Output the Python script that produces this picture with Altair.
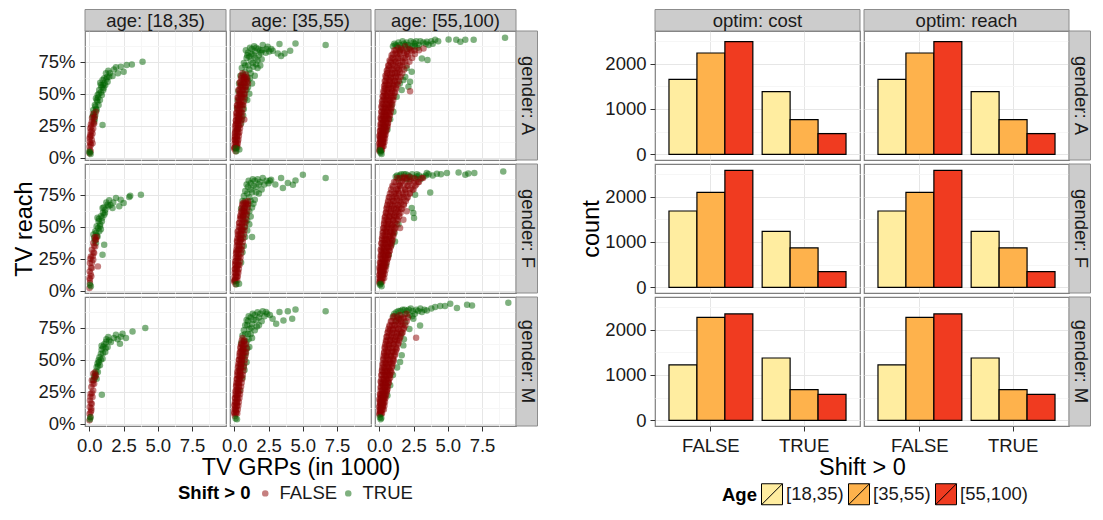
import altair as alt
import pandas as pd

FONT = "Liberation Sans"

AGES = ["[18,35)", "[35,55)", "[55,100)"]
GENDERS = ["A", "F", "M"]
SHIFT_LEVELS = ["FALSE", "TRUE"]
OPTIMS = ["cost", "reach"]

# ---- scatter: (TV GRPs in 1000, TV reach in %) ----
A_18_TRUE = [(3.89,75.0),(3.11,72.9),(2.73,72.4),(1.95,70.6),(2.51,67.2),(2.09,65.9),(1.70,63.8),(1.39,68.0),
             (1.22,65.9),(1.46,63.3),(1.09,62.0),(1.34,59.4),(0.97,60.7),(1.17,56.8),(0.85,56.8),(1.02,52.9),
             (0.73,52.9),(0.92,49.0),(0.61,49.0),(0.78,45.1),(0.49,46.4),(0.68,41.1),(0.41,41.1),(0.54,37.2),
             (0.29,37.2),(0.44,33.3),(0.24,32.0),(0.36,28.1),(0.97,25.5),(1.05,54.5),(0.80,58.5),(1.25,61.5),
             (0.60,44.0),(0.35,35.0),(0.55,45.0),(0.70,50.0),(0.90,55.0),(1.10,58.0),(1.50,66.0),(1.80,69.0),
             (2.30,71.0),(0.45,40.0),(0.30,33.0),(0.40,30.0),(0.50,38.0),(0.65,47.0),(0.85,51.0),(1.00,57.0),
             (1.30,63.0),(0.00,4.7),(0.10,2.9),(0.05,4.0)]
A_18_FALSE = [(0.02,3.4),(0.05,6.0),(0.02,8.6),(0.12,9.9),(0.03,12.5),(0.19,13.8),(0.05,16.4),(0.24,19.0),
              (0.10,20.3),(0.29,22.9),(0.15,24.2),(0.36,26.8),(0.19,28.1),(0.41,32.0),(0.29,34.1),(0.49,35.9),
              (0.03,15.1),(0.24,11.2),(0.08,18.0),(0.12,26.0),(0.20,31.0),(0.10,5.0),(0.15,17.0),(0.30,27.0),
              (0.35,31.0),(0.07,23.0),(0.18,21.0),(0.08,11.0)]
F_18_TRUE = [(3.77,75.0),(2.99,74.2),(2.92,73.2),(1.95,72.4),(2.51,68.5),(2.19,65.9),(1.46,70.6),(1.70,64.6),
             (1.34,67.2),(1.17,63.3),(0.97,64.6),(1.09,59.4),(0.85,58.1),(0.92,54.2),(0.68,54.2),(0.78,50.3),
             (0.54,50.3),(0.73,46.4),(0.44,46.4),(0.61,42.4),(0.36,41.1),(1.09,35.9),(0.97,28.1),(0.49,37.2),
             (1.25,69.0),(1.55,67.0),(1.00,61.0),(0.60,57.0),(0.85,48.0),(0.30,44.0),(0.50,45.0),(0.65,49.0),
             (0.80,52.0),(0.95,57.0),(1.15,61.0),(1.40,66.0),(1.75,69.0),(2.30,71.0),(0.40,39.0),(0.55,43.0),
             (0.70,56.0),(1.05,65.0),(0.05,4.7),(0.12,3.4)]
F_18_FALSE = [(0.54,41.9),(0.02,2.1),(0.05,6.0),(0.02,9.9),(0.15,11.2),(0.03,15.1),(0.19,17.7),(0.05,21.6),
              (0.29,24.2),(0.12,26.8),(0.36,29.4),(0.19,32.0),(0.44,34.6),(0.29,37.2),(0.49,39.8),(0.63,19.0),
              (0.05,8.6),(0.10,13.0),(0.20,22.0),(0.30,30.0),(0.40,42.0),(0.12,18.0),(0.25,27.0),(0.35,35.0),
              (0.08,25.0),(0.45,40.0)]
M_18_TRUE = [(4.09,74.7),(3.16,72.1),(2.43,70.3),(1.95,69.5),(2.68,66.9),(2.07,65.9),(2.24,62.5),(1.39,67.7),
             (1.58,63.8),(1.22,63.8),(1.34,59.9),(1.02,59.9),(1.17,56.0),(0.85,54.7),(0.97,50.8),(0.68,49.5),
             (0.78,45.6),(0.54,44.3),(0.63,40.4),(0.44,39.1),(0.54,35.2),(0.92,22.7),(0.29,33.9),(1.10,62.0),
             (0.90,58.0),(0.60,47.0),(0.75,52.0),(0.35,37.0),(0.50,41.0),(0.65,45.0),(0.85,50.0),(1.00,55.0),
             (1.20,59.0),(1.45,65.0),(1.80,67.0),(2.30,68.0),(0.40,36.0),(0.70,48.0),(0.90,61.0),(1.25,66.0),
             (0.05,3.5),(0.10,5.0)]
M_18_FALSE = [(0.49,37.8),(0.02,2.6),(0.07,5.2),(0.02,7.8),(0.15,10.4),(0.03,13.0),(0.19,15.6),(0.05,18.2),
              (0.24,20.8),(0.10,23.4),(0.29,26.0),(0.15,28.6),(0.36,31.3),(0.19,33.9),(0.44,36.5),(0.29,39.1),
              (0.10,9.0),(0.12,16.0),(0.20,24.0),(0.25,31.0),(0.08,21.0),(0.32,34.0),(0.15,12.0),(0.40,40.0)]

A_35_TRUE = [(6.67,88.0),(4.47,89.3),(4.08,83.6),(3.30,88.8),(2.81,83.6),(3.42,79.4),(3.67,81.5),(3.18,81.5),
             (2.08,88.0),(2.44,86.7),(2.70,85.0),(2.30,82.0),(1.90,84.0),(1.60,86.0),(1.30,85.0),(1.00,82.0),
             (1.80,80.0),(1.40,80.0),(0.90,78.0),(1.20,76.0),(1.70,76.0),(2.00,77.0),(0.70,74.0),(1.00,72.0),
             (1.40,71.0),(1.70,70.0),(0.55,70.0),(0.80,67.0),(1.20,66.0),(1.50,64.0),(0.45,64.0),(0.70,61.0),
             (1.00,60.0),(1.30,58.0),(0.35,58.0),(0.60,55.0),(0.90,53.0),(1.10,50.0),(0.30,52.0),(0.50,48.0),
             (0.80,46.0),(0.25,45.0),(0.60,41.0),(0.20,39.0),(0.45,35.0),(0.65,33.0),(0.30,30.0),(0.50,27.0),
             (0.25,22.0),(1.50,83.0),(1.10,79.0),(0.85,84.0),(1.15,86.0),(1.45,87.0),(1.75,85.0),(2.05,84.0),
             (2.35,85.0),(0.95,80.0),(1.25,81.0),(1.55,78.0),(1.95,82.0),(2.55,83.0),(0.80,72.0),(1.10,69.0),
             (1.35,74.0),(1.60,73.0),(1.90,72.0),(0.65,65.0),(0.95,63.0),(1.15,62.0),(0.50,57.0),(0.75,58.0),
             (1.00,55.0),(0.45,50.0),(0.70,50.0),(0.95,45.0),(0.40,42.0),(0.70,38.0),(0.35,32.0),(0.55,30.0),
             (0.12,7.3),(0.37,6.5),(0.15,5.0)]
A_35_FALSE = [(0.10,5.0),(0.05,8.0),(0.20,9.0),(0.10,12.0),(0.25,13.0),(0.05,16.0),(0.20,17.0),(0.30,19.0),
              (0.10,21.0),(0.25,23.0),(0.35,25.0),(0.15,27.0),(0.30,29.0),(0.73,29.9),(0.40,31.0),(0.20,33.0),
              (0.35,35.0),(0.50,36.0),(0.25,39.0),(0.45,41.0),(0.60,42.0),(0.35,45.0),(0.55,47.0),(0.70,49.0),
              (0.45,51.0),(0.65,53.0),(0.80,55.0),(0.55,57.0),(0.75,59.0),(0.90,61.0),(0.70,63.0),(0.85,65.0),
              (1.00,58.0),(0.60,66.0),(0.00,7.0),(0.15,10.0),(0.05,14.0),(0.18,15.0),(0.05,19.0),(0.20,21.0),
              (0.08,25.0),(0.25,27.0),(0.12,29.0),(0.28,31.0),(0.15,35.0),(0.32,37.0),(0.20,41.0),(0.38,43.0),
              (0.25,47.0),(0.42,49.0),(0.30,53.0),(0.50,55.0),(0.40,59.0),(0.60,61.0),(0.50,64.0),(0.80,63.0),
              (0.00,8),(0.12,8),(0.22,8),(0.02,11),(0.14,11),(0.26,11),(0.03,14),(0.16,14),(0.30,14),(0.05,17),
              (0.19,17),(0.34,17),(0.07,20),(0.22,20),(0.38,20),(0.09,23),(0.25,23),(0.42,23),(0.11,26),(0.28,26),
              (0.46,26),(0.13,29),(0.31,29),(0.50,29),(0.15,32),(0.34,32),(0.54,32),(0.18,35),(0.37,35),(0.58,35),
              (0.21,38),(0.40,38),(0.62,38),(0.24,41),(0.44,41),(0.66,41),(0.27,44),(0.48,44),(0.70,44),(0.30,47),
              (0.52,47),(0.74,47),(0.34,50),(0.56,50),(0.78,50),(0.38,53),(0.60,53),(0.82,53),(0.42,56),(0.64,56),
              (0.86,56),(0.46,59),(0.68,59),(0.90,59),(0.50,62),(0.72,62),(0.94,62)]
F_35_TRUE = [(6.67,88.0),(5.01,90.6),(4.47,86.2),(3.91,84.1),(3.55,80.2),(4.28,82.8),(3.42,88.0),(2.69,86.7),
             (2.08,88.0),(1.30,41.9),(1.90,85.0),(1.50,86.0),(1.20,84.0),(2.20,83.0),(1.00,81.0),(1.60,81.0),
             (2.00,79.0),(0.80,78.0),(1.30,77.0),(1.80,76.0),(0.70,74.0),(1.10,73.0),(1.50,71.0),(0.60,70.0),
             (1.00,67.0),(1.30,65.0),(0.50,64.0),(0.90,60.0),(1.20,58.0),(1.10,52.0),(0.80,54.0),(0.60,48.0),
             (0.95,47.0),(0.50,40.0),(0.70,35.0),(0.60,30.0),(0.50,22.0),(2.50,84.0),(3.00,83.0),(1.05,86.0),
             (1.35,87.0),(1.70,87.0),(2.35,86.0),(0.90,83.0),(1.40,82.0),(1.80,83.0),(2.60,86.0),(0.95,76.0),
             (1.20,79.0),(1.60,77.0),(0.80,70.0),(1.20,70.0),(1.40,68.0),(0.70,64.0),(1.10,62.0),(0.65,58.0),
             (0.95,55.0),(0.75,50.0),(0.55,44.0),(0.80,42.0),(0.15,5.0),(0.35,5.5),(0.05,8.0)]
F_35_FALSE = [(0.10,5.0),(0.05,9.0),(0.20,11.0),(0.10,14.0),(0.25,15.0),(0.15,18.0),(0.30,20.0),(0.10,23.0),
              (0.25,25.0),(0.35,27.0),(0.15,30.0),(0.30,32.0),(0.45,33.0),(0.25,36.0),(0.40,38.0),(0.50,40.0),
              (0.30,43.0),(0.45,45.0),(0.60,47.0),(0.40,50.0),(0.55,52.0),(0.70,54.0),(0.50,57.0),(0.65,59.0),
              (0.80,61.0),(0.60,63.0),(0.75,65.0),(0.90,67.0),(0.70,69.0),(1.00,70.0),(0.00,7.0),(0.12,12.0),
              (0.05,17.0),(0.20,19.0),(0.08,21.0),(0.18,27.0),(0.22,31.0),(0.35,35.0),(0.20,39.0),(0.38,41.0),
              (0.25,46.0),(0.50,48.0),(0.35,53.0),(0.45,58.0),(0.55,61.0),(0.70,62.0),(0.60,67.0),(0.85,69.0),
              (0.00,8),(0.12,8),(0.22,8),(0.02,11),(0.14,11),(0.26,11),(0.03,14),(0.16,14),(0.30,14),(0.05,17),
              (0.19,17),(0.34,17),(0.07,20),(0.22,20),(0.38,20),(0.09,23),(0.25,23),(0.42,23),(0.11,26),(0.28,26),
              (0.46,26),(0.13,29),(0.31,29),(0.50,29),(0.15,32),(0.34,32),(0.54,32),(0.18,35),(0.37,35),(0.58,35),
              (0.21,38),(0.40,38),(0.62,38),(0.24,41),(0.44,41),(0.66,41),(0.27,44),(0.48,44),(0.70,44),(0.30,47),
              (0.52,47),(0.74,47),(0.34,50),(0.56,50),(0.78,50),(0.38,53),(0.60,53),(0.82,53),(0.42,56),(0.64,56),
              (0.86,56),(0.46,59),(0.68,59),(0.90,59),(0.50,62),(0.72,62),(0.94,62),(0.55,65),(0.78,65),(0.98,65),
              (0.60,68),(0.84,68),(1.02,68)]
M_35_TRUE = [(6.67,87.8),(4.47,89.3),(3.91,87.8),(4.23,82.0),(3.59,80.7),(3.06,78.1),(3.30,87.2),(2.32,87.2),
             (2.08,87.8),(1.90,86.0),(1.50,85.0),(1.20,83.0),(2.20,84.0),(1.00,80.0),(1.60,81.0),(2.00,80.0),
             (0.80,77.0),(1.30,78.0),(1.80,77.0),(0.70,73.0),(1.10,74.0),(1.50,73.0),(0.60,69.0),(1.00,70.0),
             (1.30,67.0),(0.50,63.0),(0.90,64.0),(1.10,60.0),(0.85,55.0),(0.60,52.0),(0.90,48.0),(0.45,44.0),
             (0.75,42.0),(0.60,36.0),(0.40,26.0),(2.60,85.0),(2.80,82.0),(1.05,84.0),(1.35,86.0),(1.70,87.0),
             (2.40,86.0),(0.90,81.0),(1.40,81.0),(1.80,83.0),(0.95,77.0),(1.25,75.0),(1.65,76.0),(0.80,70.0),
             (1.20,70.0),(0.70,65.0),(1.05,66.0),(0.65,58.0),(0.95,59.0),(0.75,52.0),(0.55,47.0),(0.70,45.0),
             (0.10,4.0),(0.20,3.5)]
M_35_FALSE = [(0.05,6.0),(0.15,9.0),(0.05,12.0),(0.20,14.0),(0.10,17.0),(0.25,19.0),(0.15,22.0),(0.30,24.0),
              (0.20,27.0),(0.35,29.0),(0.25,32.0),(0.40,34.0),(0.30,37.0),(0.45,39.0),(0.35,42.0),(0.50,44.0),
              (0.40,47.0),(0.55,49.0),(0.45,52.0),(0.60,54.0),(0.50,57.0),(0.65,59.0),(0.55,62.0),(0.70,64.0),
              (0.60,67.0),(0.75,56.0),(0.85,62.0),(0.50,37.0),(0.00,9.0),(0.12,11.0),(0.02,15.0),(0.18,16.0),
              (0.05,20.0),(0.22,21.0),(0.10,25.0),(0.28,26.0),(0.15,30.0),(0.32,31.0),(0.20,35.0),(0.38,36.0),
              (0.25,40.0),(0.42,41.0),(0.30,45.0),(0.48,46.0),(0.35,50.0),(0.52,51.0),(0.40,55.0),(0.58,57.0),
              (0.45,60.0),(0.65,61.0),
              (0.00,8),(0.12,8),(0.22,8),(0.02,11),(0.14,11),(0.26,11),(0.03,14),(0.16,14),(0.30,14),(0.05,17),
              (0.19,17),(0.34,17),(0.07,20),(0.22,20),(0.38,20),(0.09,23),(0.25,23),(0.42,23),(0.11,26),(0.28,26),
              (0.46,26),(0.13,29),(0.31,29),(0.50,29),(0.15,32),(0.34,32),(0.54,32),(0.18,35),(0.37,35),(0.58,35),
              (0.21,38),(0.40,38),(0.62,38),(0.24,41),(0.44,41),(0.66,41),(0.27,44),(0.48,44),(0.70,44),(0.30,47),
              (0.52,47),(0.74,47),(0.34,50),(0.56,50),(0.78,50),(0.38,53),(0.60,53),(0.82,53),(0.42,56),(0.64,56),
              (0.86,56),(0.46,59),(0.68,59),(0.90,59),(0.50,62),(0.72,62),(0.55,65),(0.76,65)]

A_55_TRUE = [(9.18,93.8),(6.89,92.2),(6.28,92.2),(5.92,90.6),(5.62,92.2),(5.06,92.4),(4.08,92.2),(3.47,90.6),
             (3.11,77.6),(3.52,76.3),(2.13,55.5),(2.25,59.4),(1.76,60.7),(2.37,67.2),(1.10,89.0),(1.40,90.0),
             (1.70,91.0),(2.00,90.0),(2.30,91.0),(2.60,89.0),(2.90,88.0),(3.20,90.0),(3.60,88.0),(3.90,89.0),
             (1.30,87.0),(1.60,86.0),(1.90,88.0),(2.40,87.0),(2.80,86.0),(1.03,35.9),(0.90,41.0),(1.27,47.7),
             (1.64,52.9),(1.50,58.0),(1.90,63.0),(2.00,70.0),(0.80,30.0),(0.60,22.0),(1.20,88.0),(1.50,88.0),
             (1.80,89.0),(2.10,88.0),(2.50,90.0),(2.70,91.0),(3.00,91.0),(3.40,89.0),(1.00,87.0),(2.20,86.0),
             (2.60,87.0),(3.80,91.0),(4.30,91.0),(1.50,84.0),(2.00,85.0),(0.10,3.9),(0.17,2.9),(0.05,6.0),
             (0.12,5.0)]
A_55_FALSE = [(0.02,5),(0.15,6),(0.05,8),(0.20,9),(0.00,11),(0.15,12),(0.30,12),(0.05,14),(0.20,15),(0.35,16),
              (0.00,17),(0.15,18),(0.30,19),(0.45,20),(0.05,21),(0.20,22),(0.40,24),(0.60,25),(0.10,26),(0.30,28),
              (0.50,28),(0.70,30),(0.10,31),(0.30,32),(0.50,33),(0.75,34),(0.15,36),(0.35,36),(0.60,37),(0.85,38),
              (0.15,40),(0.40,40),(0.65,41),(0.90,43),(0.20,44),(0.45,45),(0.70,45),(1.00,47),(0.25,48),(0.50,49),
              (0.80,50),(1.10,51),(0.30,52),(0.55,53),(0.85,54),(1.20,55),(2.25,52),(0.35,56),(0.60,57),(0.95,58),
              (1.30,59),(0.40,60),(0.70,61),(1.00,62),(1.40,63),(0.45,64),(0.80,65),(1.15,66),(1.50,67),(0.55,68),
              (0.90,69),(1.30,70),(1.70,71),(0.65,72),(1.00,73),(1.40,74),(1.90,75),(0.75,76),(1.15,77),(1.60,78),
              (2.10,79),(0.90,80),(1.30,81),(1.80,82),(2.40,83),(1.10,84),(1.60,85),(2.20,85),(3.23,85.4),
              (0.08,7),(0.10,10),(0.25,11),(0.12,13),(0.28,14),(0.10,16),(0.25,17),(0.40,18),(0.10,19),(0.28,20),
              (0.50,22),(0.15,23),(0.35,25),(0.60,27),(0.20,27),(0.40,30),(0.60,31),(0.20,30),(0.45,34),(0.70,35),
              (0.25,34),(0.50,38),(0.75,39),(0.30,38),(0.55,42),(0.80,43),(0.30,42),(0.60,46),(0.90,47),(0.35,46),
              (0.65,50),(0.95,52),(0.40,50),(0.70,54),(1.05,56),(0.45,54),(0.80,58),(1.15,60),(0.50,58),(0.85,62),
              (1.25,64),(0.55,62),(0.95,66),(1.35,68),(0.60,66),(1.10,70),(1.50,72),(0.70,70),(1.20,75),(1.70,76),
              (0.85,74),(1.40,79),(1.95,80),(1.00,78),(1.50,83),(2.00,83),(1.20,82),(2.60,84),(1.40,86),(1.90,87),
              (0.00,6),(0.10,6),(0.20,6),(0.02,9),(0.12,9),(0.24,9),(0.32,9),(0.03,12),(0.14,12),(0.26,12),
              (0.38,12),(0.05,15),(0.16,15),(0.30,15),(0.42,15),(0.06,18),(0.18,18),(0.32,18),(0.46,18),(0.08,21),
              (0.22,21),(0.36,21),(0.52,21),(0.10,24),(0.25,24),(0.42,24),(0.58,24),(0.12,27),(0.28,27),(0.46,27),
              (0.64,27),(0.14,30),(0.32,30),(0.50,30),(0.70,30),(0.16,33),(0.36,33),(0.56,33),(0.78,33),(0.18,36),
              (0.40,36),(0.60,36),(0.84,36),(0.20,39),(0.44,39),(0.66,39),(0.90,39),(0.22,42),(0.48,42),(0.72,42),
              (0.96,42),(0.26,45),(0.52,45),(0.78,45),(1.02,45),(0.30,48),(0.56,48),(0.84,48),(1.08,48),(0.34,51),
              (0.60,51),(0.90,51),(1.16,51),(0.38,54),(0.66,54),(0.96,54),(1.24,54),(0.42,57),(0.72,57),(1.04,57),
              (1.34,57),(0.46,60),(0.78,60),(1.12,60),(1.44,60),(0.50,63),(0.84,63),(1.20,63),(1.56,63),(0.56,66),
              (0.92,66),(1.30,66),(1.68,66),(0.62,69),(1.00,69),(1.42,69),(1.82,69),(0.70,72),(1.10,72),(1.55,72),
              (2.00,72),(0.80,75),(1.22,75),(1.70,75),(2.20,75),(0.90,78),(1.35,78),(1.85,78),(2.40,78),(1.00,81),
              (1.50,81),(2.05,81),(2.60,81),(1.20,84),(1.70,84),(2.30,84),(2.90,84)]
F_55_TRUE = [(9.05,93.2),(6.94,91.9),(6.28,90.6),(5.79,92.4),(4.94,91.9),(4.21,91.4),(3.72,76.8),(2.62,75.0),
             (2.49,60.7),(2.54,56.8),(2.37,64.6),(1.15,38.5),(3.47,91.9),(2.74,89.3),(6.50,91.5),(1.20,89.0),
             (1.50,90.0),(1.80,91.0),(2.10,90.0),(2.40,91.0),(2.90,90.0),(3.20,89.0),(3.90,90.0),(1.40,87.0),
             (1.70,88.0),(2.00,87.0),(2.60,88.0),(3.00,87.0),(0.90,36.0),(1.10,45.0),(1.40,52.0),(0.70,28.0),
             (0.50,20.0),(1.30,90.0),(1.60,91.0),(1.95,91.0),(2.25,89.0),(2.75,91.0),(3.40,90.0),(4.50,91.0),
             (3.60,91.0),(2.20,87.0),(0.17,3.4),(0.05,4.7),(0.10,5.5)]
F_55_FALSE = [(0.02,6),(0.15,7),(0.05,9),(0.20,10),(0.00,12),(0.15,13),(0.30,14),(0.05,15),(0.20,16),(0.35,17),
              (0.00,18),(0.15,19),(0.30,20),(0.45,21),(0.05,22),(0.25,23),(0.45,25),(0.65,26),(0.10,27),(0.30,29),
              (0.55,29),(0.75,31),(0.10,32),(0.35,33),(0.60,34),(0.85,35),(0.15,37),(0.40,37),(0.65,38),(0.95,39),
              (0.20,41),(0.45,41),(0.75,42),(1.00,44),(0.25,45),(0.50,46),(0.80,46),(1.10,48),(0.30,49),(0.60,50),
              (0.90,51),(1.52,49),(0.35,53),(0.65,54),(1.00,55),(1.30,56),(1.76,55.5),(0.40,57),(0.75,58),(1.10,59),
              (1.45,60),(2.00,62),(0.50,61),(0.85,62),(1.20,63),(1.60,64),(0.55,65),(0.95,66),(1.35,67),(1.80,68),
              (0.65,69),(1.05,70),(1.50,71),(2.00,72),(0.75,73),(1.20,74),(1.70,75),(2.20,76),(0.90,77),(1.35,78),
              (1.90,79),(2.50,79),(1.00,81),(1.50,82),(2.10,82),(2.70,83),(1.20,85),(1.70,86),(2.30,86),(2.90,85),
              (1.50,88),(2.20,89),(3.20,88),
              (0.08,8),(0.10,11),(0.25,12),(0.10,14),(0.28,15),(0.10,17),(0.25,18),(0.40,19),(0.12,21),(0.35,22),
              (0.55,24),(0.20,25),(0.40,27),(0.65,28),(0.20,29),(0.45,31),(0.70,33),(0.25,33),(0.50,36),(0.80,37),
              (0.30,36),(0.55,40),(0.85,41),(0.35,40),(0.60,44),(0.95,45),(0.40,44),(0.70,48),(1.05,50),(0.45,48),
              (0.75,52),(1.15,53),(0.50,52),(0.85,56),(1.25,58),(0.55,56),(0.95,60),(1.35,62),(0.60,60),(1.05,64),
              (1.45,65),(0.70,64),(1.15,68),(1.60,69),(0.80,68),(1.30,72),(1.80,73),(0.95,72),(1.45,76),(1.95,77),
              (1.10,76),(1.60,80),(2.30,80),(1.25,79),(1.85,84),(2.50,84),(1.40,83),(2.00,88),(2.70,87),(1.80,89),
              (0.00,7),(0.10,7),(0.22,7),(0.02,10),(0.13,10),(0.26,10),(0.36,10),(0.04,13),(0.15,13),(0.28,13),
              (0.40,13),(0.05,16),(0.17,16),(0.31,16),(0.45,16),(0.07,19),(0.20,19),(0.35,19),(0.50,19),(0.09,22),
              (0.23,22),(0.39,22),(0.56,22),(0.11,25),(0.27,25),(0.44,25),(0.62,25),(0.13,28),(0.30,28),(0.49,28),
              (0.68,28),(0.15,31),(0.34,31),(0.54,31),(0.75,31),(0.17,34),(0.38,34),(0.60,34),(0.82,34),(0.19,37),
              (0.42,37),(0.65,37),(0.90,37),(0.22,40),(0.46,40),(0.71,40),(0.96,40),(0.25,43),(0.50,43),(0.77,43),
              (1.03,43),(0.28,46),(0.54,46),(0.83,46),(1.10,46),(0.31,49),(0.58,49),(0.89,49),(1.18,49),(0.35,52),
              (0.63,52),(0.96,52),(1.27,52),(0.39,55),(0.68,55),(1.03,55),(1.36,55),(0.43,58),(0.74,58),(1.10,58),
              (1.46,58),(0.48,61),(0.80,61),(1.18,61),(1.56,61),(0.53,64),(0.87,64),(1.27,64),(1.67,64),(0.58,67),
              (0.95,67),(1.37,67),(1.80,67),(0.64,70),(1.04,70),(1.48,70),(1.94,70),(0.70,73),(1.13,73),(1.60,73),
              (2.08,73),(0.78,76),(1.23,76),(1.73,76),(2.24,76),(0.86,79),(1.34,79),(1.88,79),(2.42,79),(0.96,82),
              (1.47,82),(2.04,82),(2.62,82),(1.08,85),(1.62,85),(2.22,85),(2.84,85),(1.30,88),(1.85,88),(2.50,88),
              (3.10,88)]
M_55_TRUE = [(9.42,94.5),(6.77,92.4),(6.41,93.0),(5.67,90.4),(5.18,93.8),(4.45,91.9),(4.08,91.1),(3.47,88.5),
             (3.11,87.2),(2.98,76.8),(2.49,82.0),(1.76,61.2),(1.64,53.4),(1.52,48.2),(4.80,92.0),(1.10,86.0),
             (1.40,88.0),(1.70,89.0),(2.00,88.0),(2.30,90.0),(2.70,89.0),(3.00,90.0),(3.80,90.0),(1.30,84.0),
             (1.60,85.0),(1.90,86.0),(2.20,85.0),(2.60,86.0),(1.20,80.0),(1.90,79.0),(2.20,74.0),(1.30,44.0),
             (1.00,38.0),(0.80,30.0),(0.60,22.0),(1.25,87.0),(1.55,88.0),(1.85,89.0),(2.15,89.0),(2.45,88.0),
             (2.85,88.0),(3.30,89.0),(1.00,84.0),(1.45,82.0),(2.40,84.0),(1.60,70.0),(1.80,66.0),(0.10,3.4),
             (0.05,5.0),(0.15,4.5)]
M_55_FALSE = [(0.02,7),(0.15,8),(0.05,10),(0.20,11),(0.00,13),(0.15,14),(0.30,15),(0.05,16),(0.20,17),(0.35,18),
              (0.00,19),(0.15,20),(0.30,21),(0.45,22),(0.05,23),(0.25,24),(0.45,26),(0.60,27),(0.10,28),(0.30,30),
              (0.50,30),(0.70,32),(0.10,33),(0.35,34),(0.55,35),(0.80,36),(0.15,38),(0.40,38),(0.60,39),(0.90,40),
              (0.20,42),(0.45,42),(0.70,43),(0.95,45),(0.25,46),(0.50,47),(0.75,48),(1.05,49),(0.30,51),(0.55,52),
              (0.85,53),(1.15,54),(0.35,55),(0.60,56),(0.95,57),(1.25,58),(0.40,60),(0.70,61),(1.05,62),(1.40,63),
              (2.69,67.2),(0.50,64),(0.80,65),(1.15,66),(1.50,67),(0.55,68),(0.90,69),(1.30,70),(1.70,71),(0.65,72),
              (1.00,73),(1.40,74),(1.80,75),(0.75,76),(1.15,77),(1.60,78),(0.90,80),(1.30,81),(1.80,82),(1.10,84),
              (1.50,85),(2.00,86),
              (0.08,9),(0.10,12),(0.25,13),(0.10,15),(0.28,16),(0.10,18),(0.25,19),(0.40,20),(0.12,22),(0.35,23),
              (0.55,25),(0.20,26),(0.40,28),(0.60,29),(0.20,31),(0.45,32),(0.65,34),(0.25,35),(0.50,37),(0.75,38),
              (0.30,40),(0.55,41),(0.80,42),(0.35,44),(0.60,45),(0.90,47),(0.40,48),(0.65,50),(1.00,51),(0.45,53),
              (0.70,54),(1.05,56),(0.50,57),(0.80,59),(1.20,60),(0.55,61),(0.90,63),(1.30,65),(0.60,65),(1.00,67),
              (1.40,69),(0.70,69),(1.10,71),(1.55,72),(0.80,73),(1.25,75),(1.70,77),(0.95,77),(1.40,79),(1.60,82),
              (0.00,8),(0.10,8),(0.20,8),(0.02,11),(0.12,11),(0.24,11),(0.34,11),(0.03,14),(0.14,14),(0.26,14),
              (0.38,14),(0.05,17),(0.16,17),(0.29,17),(0.42,17),(0.06,20),(0.18,20),(0.32,20),(0.46,20),(0.08,23),
              (0.21,23),(0.35,23),(0.50,23),(0.10,26),(0.24,26),(0.39,26),(0.55,26),(0.12,29),(0.27,29),(0.43,29),
              (0.60,29),(0.14,32),(0.30,32),(0.47,32),(0.66,32),(0.16,35),(0.34,35),(0.52,35),(0.72,35),(0.18,38),
              (0.38,38),(0.57,38),(0.78,38),(0.20,41),(0.41,41),(0.62,41),(0.84,41),(0.23,44),(0.45,44),(0.67,44),
              (0.90,44),(0.26,47),(0.49,47),(0.72,47),(0.97,47),(0.29,50),(0.53,50),(0.78,50),(1.04,50),(0.32,53),
              (0.57,53),(0.84,53),(1.11,53),(0.36,56),(0.62,56),(0.90,56),(1.19,56),(0.40,59),(0.67,59),(0.97,59),
              (1.27,59),(0.44,62),(0.73,62),(1.04,62),(1.36,62),(0.49,65),(0.79,65),(1.12,65),(1.45,65),(0.54,68),
              (0.86,68),(1.20,68),(1.55,68),(0.60,71),(0.93,71),(1.29,71),(1.66,71),(0.67,74),(1.01,74),(1.39,74),
              (1.78,74),(0.75,77),(1.10,77),(1.50,77),(1.90,77),(0.85,80),(1.20,80),(1.60,80),(2.00,80),(1.00,83),
              (1.35,83),(1.75,83),(2.10,83)]

# ---- bar counts per gender, shift (FALSE/TRUE), ages in AGES order ----
COUNT_A_FALSE = [1654, 2235, 2485]
COUNT_A_TRUE = [1382, 765, 456]
COUNT_F_FALSE = [1684, 2096, 2581]
COUNT_F_TRUE = [1235, 868, 346]
COUNT_M_FALSE = [1221, 2272, 2346]
COUNT_M_TRUE = [1375, 676, 574]

X_TICKS = [0, 1.25, 2.5, 3.75, 5, 6.25, 7.5, 8.75]
Y_TICKS = [0, 0.125, 0.25, 0.375, 0.5, 0.625, 0.75, 0.875]
COUNT_TICKS = [0, 500, 1000, 1500, 2000, 2500]

SHIFT_COLORS = ["#8b0000", "#006400"]
AGE_COLORS = ["#FFEDA0", "#FEB24C", "#F03B20"]

# ------------------------------------------------------------------
scatter_src = {
    ("A", AGES[0]): (A_18_TRUE, A_18_FALSE), ("F", AGES[0]): (F_18_TRUE, F_18_FALSE), ("M", AGES[0]): (M_18_TRUE, M_18_FALSE),
    ("A", AGES[1]): (A_35_TRUE, A_35_FALSE), ("F", AGES[1]): (F_35_TRUE, F_35_FALSE), ("M", AGES[1]): (M_35_TRUE, M_35_FALSE),
    ("A", AGES[2]): (A_55_TRUE, A_55_FALSE), ("F", AGES[2]): (F_55_TRUE, F_55_FALSE), ("M", AGES[2]): (M_55_TRUE, M_55_FALSE),
}
rows = []
for (g, a), (tr, fa) in scatter_src.items():
    for grp, reach in tr:
        rows.append({"gender": g, "age": a, "shift": "TRUE", "grp": grp, "reach": reach / 100.0,
                     "z": 2 if reach < 8 else 0})
    for grp, reach in fa:
        rows.append({"gender": g, "age": a, "shift": "FALSE", "grp": grp, "reach": reach / 100.0, "z": 1})
pts = pd.DataFrame(rows)

count_src = {"A": (COUNT_A_FALSE, COUNT_A_TRUE), "F": (COUNT_F_FALSE, COUNT_F_TRUE), "M": (COUNT_M_FALSE, COUNT_M_TRUE)}
brow = []
for o in OPTIMS:
    for g, (cf, ct) in count_src.items():
        for i, a in enumerate(AGES):
            brow.append({"optim": o, "gender": g, "shift": "FALSE", "age": a, "count": cf[i]})
            brow.append({"optim": o, "gender": g, "shift": "TRUE", "age": a, "count": ct[i]})
bars = pd.DataFrame(brow)

# ------------------------------------------------------------------
SW, SH = 141, 129
BW, BH = 205, 129
STRIP = 21.5
TXT = 18.5
TTL = 23.5
MAJOR = "#e6e6e6"
MINOR = "#f6f6f6"
STRIP_FILL = "#cccccc"
STRIP_LINE = "#8c8c8c"
INK = "#1a1a1a"


def major_test(step):
    return f"abs(datum.value / {step} - round(datum.value / {step})) < 0.001"


def make_axis(step, show, fmt, title=None, **kw):
    t = major_test(step)
    args = dict(
        values=kw.pop("values"),
        grid=True,
        gridColor={"condition": {"test": t, "value": MAJOR}, "value": MINOR},
        gridWidth=1,
        domain=False,
        labels=show,
        ticks=show,
        tickSize=5,
        tickWidth=1,
        tickColor={"condition": {"test": t, "value": "#333333"}, "value": "rgba(0,0,0,0)"},
        labelExpr=f"({t}) ? format(datum.value, '{fmt}') : ''",
        labelFont=FONT,
        labelFontSize=TXT,
        labelColor=INK,
        labelOverlap=False,
        labelFlush=False,
        title=title,
        titleFont=FONT,
        titleFontSize=TTL,
        titleFontWeight="normal",
        titleColor="#000000",
    )
    args.update(kw)
    return alt.Axis(**args)


def top_strip(text, w):
    src = alt.Data(values=[{"label": text}])
    r = alt.Chart(src).mark_rect(fill=STRIP_FILL, stroke=STRIP_LINE, strokeWidth=1).encode(
        x=alt.value(0), x2=alt.value(w), y=alt.value(-STRIP), y2=alt.value(0))
    t = alt.Chart(src).mark_text(font=FONT, fontSize=TXT, color=INK, align="center", baseline="middle").encode(
        x=alt.value(w / 2), y=alt.value(-STRIP / 2 + 1), text="label:N")
    return [r, t]


def right_strip(text, w, h):
    src = alt.Data(values=[{"label": text}])
    r = alt.Chart(src).mark_rect(fill=STRIP_FILL, stroke=STRIP_LINE, strokeWidth=1).encode(
        x=alt.value(w), x2=alt.value(w + STRIP), y=alt.value(0), y2=alt.value(h))
    t = alt.Chart(src).mark_text(font=FONT, fontSize=TXT, color=INK, align="center", baseline="middle",
                                 angle=90).encode(
        x=alt.value(w + STRIP / 2 + 1), y=alt.value(h / 2), text="label:N")
    return [r, t]


shift_legend = alt.Legend(
    title="Shift > 0", orient="none", legendX=93, legendY=453, direction="horizontal",
    titleOrient="left", titleFont=FONT, titleFontSize=TXT, titleFontWeight="bold", titleColor="#000000",
    titlePadding=5, labelFont=FONT, labelFontSize=TXT, labelColor=INK, symbolType="circle",
    symbolSize=42, symbolOpacity=0.5, symbolStrokeWidth=0, labelOffset=5, columnPadding=1)

age_legend = alt.Legend(
    title="Age", orient="none", legendX=637, legendY=452, direction="horizontal",
    titleOrient="left", titleFont=FONT, titleFontSize=TXT, titleFontWeight="bold", titleColor="#000000",
    titlePadding=4, labelFont=FONT, labelFontSize=TXT, labelColor=INK,
    symbolType="M-1,-1H1V1H-1Z M-1,1L1,-1", symbolSize=441, symbolStrokeColor="#000000",
    symbolStrokeWidth=1, labelOffset=3, columnPadding=2)


def scatter_panel(ri, ci):
    age, g = AGES[ci], GENDERS[ri]
    d = pts[(pts.age == age) & (pts.gender == g)]
    xa = make_axis(2.5, ri == 2, ".1f", "TV GRPs (in 1000)" if (ri == 2 and ci == 1) else None,
                   values=X_TICKS, labelPadding=5, titlePadding=1)
    ya = make_axis(0.25, ci == 0, ".0%", "TV reach" if (ri == 1 and ci == 0) else None,
                   values=Y_TICKS, labelPadding=5, titlePadding=1)
    pts_layer = alt.Chart(d).mark_circle(size=42, opacity=0.5).encode(
        x=alt.X("grp:Q", scale=alt.Scale(domain=[-0.31, 9.98], nice=False, zero=False), axis=xa),
        y=alt.Y("reach:Q", scale=alt.Scale(domain=[-0.018, 0.99], nice=False, zero=False), axis=ya),
        color=alt.Color("shift:N", scale=alt.Scale(domain=SHIFT_LEVELS, range=SHIFT_COLORS), legend=shift_legend),
        order=alt.Order("z:Q"),
    )
    layers = [pts_layer]
    if ri == 0:
        layers += top_strip(f"age: {age}", SW)
    if ci == 2:
        layers += right_strip(f"gender: {g}", SW, SH)
    return alt.layer(*layers).properties(width=SW, height=SH)


def bar_panel(ri, ci):
    o, g = OPTIMS[ci], GENDERS[ri]
    d = bars[(bars.optim == o) & (bars.gender == g)]
    show_x = ri == 2
    xa = alt.Axis(
        grid=True, gridColor=MAJOR, gridWidth=1, bandPosition=0.5, domain=False,
        labels=show_x, ticks=show_x, tickSize=5, tickColor="#333333", labelAngle=0,
        labelFont=FONT, labelFontSize=TXT, labelColor=INK, labelPadding=5,
        title="Shift > 0" if (ri == 2 and ci == 0) else None,
        titleFont=FONT, titleFontSize=TTL, titleFontWeight="normal", titleColor="#000000",
        titleX=BW + 2, titlePadding=1)
    ya = make_axis(1000, ci == 0, "d", "count" if (ri == 1 and ci == 0) else None,
                   values=COUNT_TICKS, labelPadding=4, titlePadding=1)
    bar_layer = alt.Chart(d).mark_bar(stroke="#000000", strokeWidth=1.2).encode(
        x=alt.X("shift:N", scale=alt.Scale(domain=SHIFT_LEVELS, paddingInner=0.1, paddingOuter=0.15), axis=xa),
        xOffset=alt.XOffset("age:N", scale=alt.Scale(domain=AGES, paddingInner=0, paddingOuter=0)),
        y=alt.Y("count:Q", stack=False, scale=alt.Scale(domain=[-125, 2720], nice=False, zero=False), axis=ya),
        fill=alt.Fill("age:N", scale=alt.Scale(domain=AGES, range=AGE_COLORS), legend=age_legend),
    )
    layers = [bar_layer]
    if ri == 0:
        layers += top_strip(f"optim: {o}", BW)
    if ci == 1:
        layers += right_strip(f"gender: {g}", BW, BH)
    return alt.layer(*layers).properties(width=BW, height=BH)


left = alt.concat(*[scatter_panel(r, c) for r in range(3) for c in range(3)],
                  columns=3, spacing=4, bounds="flush")
right = alt.concat(*[bar_panel(r, c) for r in range(3) for c in range(2)],
                   columns=2, spacing=4, bounds="flush")

chart = alt.hconcat(left, right, spacing=40).properties(
    padding={"left": 4, "top": 0, "right": 0, "bottom": 0}
).configure(font=FONT).configure_view(stroke="#7f7f7f", strokeWidth=1.2)

chart.save("out.html", embed_options={"renderer": "svg", "actions": False})
